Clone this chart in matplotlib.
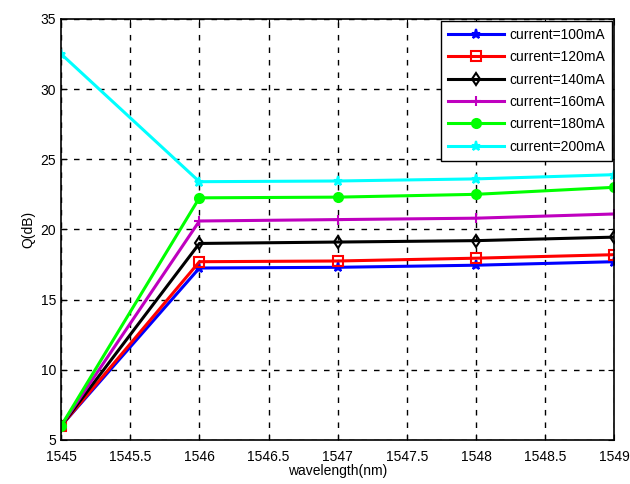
import matplotlib.pyplot as plt
import numpy as np

wavelength = [1545, 1546, 1547, 1548, 1549]
q_100 = [6.0, 17.25, 17.3, 17.45, 17.7]
q_120 = [6.0, 17.7, 17.75, 17.95, 18.2]
q_140 = [6.0, 19.0, 19.1, 19.2, 19.45]
q_160 = [6.0, 20.6, 20.7, 20.8, 21.1]
q_180 = [6.0, 22.25, 22.3, 22.5, 23.0]
q_200 = [32.5, 23.4, 23.45, 23.6, 23.9]

series = [
    (q_100, 'b', '*', 'b', 'current=100mA'),
    (q_120, 'r', 's', 'none', 'current=120mA'),
    (q_140, 'k', 'd', 'none', 'current=140mA'),
    (q_160, 'm', '+', 'm', 'current=160mA'),
    (q_180, 'lime', 'o', 'lime', 'current=180mA'),
    (q_200, 'cyan', '*', 'cyan', 'current=200mA'),
]

plt.rcParams['font.family'] = ['Liberation Sans', 'DejaVu Sans']
fig = plt.figure(figsize=(6.3, 4.84), dpi=100)
ax = fig.add_axes([0.097, 0.091, 0.878, 0.870])

for vals, col, mk, fc, lab in series:
    ax.plot(wavelength, vals, color=col, marker=mk, markerfacecolor=fc,
            markeredgecolor=col, markeredgewidth=1.5, markersize=6.5,
            linewidth=2.2, label=lab)

ax.set_xlim(1545, 1549)
ax.set_ylim(5, 35)
ax.set_xticks(np.arange(1545, 1549.01, 0.5))
ax.set_xticklabels(['1545', '1545.5', '1546', '1546.5', '1547', '1547.5',
                    '1548', '1548.5', '1549'])
ax.set_yticks(np.arange(5, 36, 5))
ax.tick_params(direction='in', labelsize=10, length=4, top=True, right=True)
ax.tick_params(axis='x', pad=7)
ax.grid(True, color='k', linestyle=(0, (4, 5)), linewidth=1)
for sp in ax.spines.values():
    sp.set_linewidth(1.2)
ax.set_xlabel('wavelength(nm)', fontsize=10, labelpad=0)
ax.set_ylabel('Q(dB)', fontsize=10)

leg = ax.legend(loc='upper right', fontsize=10, fancybox=False, framealpha=1,
                edgecolor='k', borderaxespad=0.15, handlelength=4.0,
                labelspacing=0.6, handletextpad=0.4, borderpad=0.5)
leg.get_frame().set_linewidth(1.0)

fig.savefig('out.png', dpi=100)
